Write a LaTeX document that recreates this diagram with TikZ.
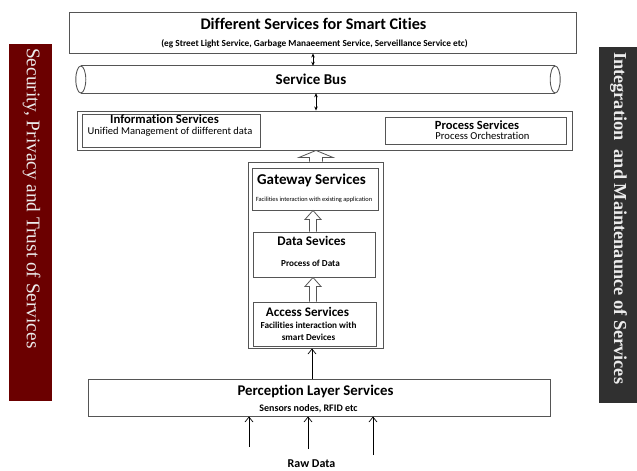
\documentclass[tikz,border=0pt]{standalone}
\usepackage{fontspec}
\setmainfont{Carlito}[Ligatures={NoCommon}]
\newfontfamily\serifside{Liberation Serif}
\usetikzlibrary{arrows.meta,calc}
\definecolor{edge}{RGB}{85,85,85}
\definecolor{secred}{RGB}{107,0,0}
\definecolor{intgray}{RGB}{48,48,48}
\newcommand{\fsz}[1]{\fontsize{#1}{#1}\selectfont}
\tikzset{
  box/.style={draw=edge, line width=0.9pt, inner sep=0pt, fill=white},
  txt/.style={inner sep=0pt, text=black},
  dbl/.style={line width=0.8pt, {Stealth[length=4pt,width=3.5pt]}-{Stealth[length=4pt,width=3.5pt]}},
  open/.style={line width=0.7pt, -{Straight Barb[length=5pt,width=8pt]}},
  hollow/.style={draw=edge, line width=0.8pt, fill=white},
  sidebar/.style={inner sep=0pt}
}
\begin{document}
\begin{tikzpicture}[x=1pt,y=-1pt]
\useasboundingbox (0,0) rectangle (637,471);
% side bars
\node[sidebar, fill=secred, minimum width=43pt, minimum height=357pt] (sec) at (30.5,222.5) {};
\node[txt, text=white!92!black, rotate=-90, anchor=west] (sectxt) at (31.5,48) {\serifside\fsz{19.3}Security, Privacy and Trust of Services};
\node[sidebar, fill=intgray, minimum width=38pt, minimum height=356pt] (int) at (618,225) {};
\node[txt, text=white!92!black, rotate=-90, anchor=west] (inttxt) at (618.5,52) {\serifside\bfseries\fsz{18.3}Integration~~and Maintenaunce of Services};

% top box
\node[box, minimum width=507pt, minimum height=41pt] (top) at (322.5,32.5) {};
\node[txt] (toptitle) at (313.5,24) {\bfseries\fsz{16.2}Different Services for Smart Cities};
\node[txt] (topsub) at (314.5,43.5) {\bfseries\fsz{9.3}(eg Street Light Service, Garbage Manaeement Service, Serveillance Service etc)};

% service bus
\node[txt, minimum width=474pt, minimum height=27pt] (bus) at (318,79.5) {};
\draw[edge, line width=0.9pt] (bus.north west) -- (bus.north east) (bus.south west) -- (bus.south east);
\draw[edge, line width=0.9pt] (bus.west) ellipse [x radius=5pt, y radius=13.5pt];
\draw[edge, line width=0.9pt] (bus.east) ellipse [x radius=5pt, y radius=13.5pt];
\node[txt] (bustxt) at (311,79) {\bfseries\fsz{15}Service Bus};

% middle box
\node[box, minimum width=495pt, minimum height=39pt] (mid) at (324.5,130.5) {};
\node[box, minimum width=178pt, minimum height=33pt] (info) at (171,130.5) {};
\node[txt] (infot) at (164.5,119.5) {\bfseries\fsz{12.7}Information Services};
\node[txt] (infos) at (170,131.5) {\fsz{10.5}Unified Management of diifferent data};
\node[box, minimum width=181pt, minimum height=27pt] (proc) at (475.5,130.5) {};
\node[txt] (proct) at (477,125) {\bfseries\fsz{12.5}Process Services};
\node[txt] (procs) at (482.5,136) {\fsz{10.6}Process Orchestration};

% arrows top-bus-mid
\coordinate (ax1) at (313,0);
\coordinate (ax2) at (316,0);
\draw[dbl] (top.south -| ax1) -- (bus.north -| ax1);
\draw[dbl] (bus.south -| ax2) -- (mid.north -| ax2);

% container
\node[box, minimum width=135pt, minimum height=186pt] (cont) at (315.5,255) {};
\node[box, minimum width=126pt, minimum height=42pt] (gw) at (315,189) {};
\node[txt] (gwt) at (311.5,180.5) {\bfseries\fsz{15}Gateway Services};
\node[txt] (gws) at (314,200) {\fsz{6.4}Facilities interaction with existing application};
\node[box, minimum width=122pt, minimum height=45pt] (data) at (314,254.5) {};
\node[txt] (datat) at (311.5,241) {\bfseries\fsz{13.2}Data Sevices};
\node[txt] (datas) at (310.5,263) {\bfseries\fsz{9.2}Process of Data};
\node[box, minimum width=123pt, minimum height=44pt] (acc) at (314.5,324) {};
\node[txt] (acct) at (307.5,311.5) {\bfseries\fsz{13.1}Access Services};
\node[txt, align=center] (accs) at (308.5,331.5) {\bfseries\fsz{9.2}Facilities interaction with\\[0.5pt]\bfseries\fsz{9.2}smart Devices};

% hollow arrows
\coordinate (h1) at (316,0);
\coordinate (h2) at (313,0);
\path (cont.north -| h1) coordinate (a1b) (mid.south -| h1) coordinate (a1t);
\draw[hollow] ($(a1b)+(-6.5,0)$) -- ($(a1t)+(-6.5,7)$) -- ($(a1t)+(-17,7)$) -- (a1t) -- ($(a1t)+(17,7)$) -- ($(a1t)+(6.5,7)$) -- ($(a1b)+(6.5,0)$);
\path (data.north -| h2) coordinate (a2b) (gw.south -| h2) coordinate (a2t);
\draw[hollow] ($(a2b)+(-3.5,0)$) -- ($(a2t)+(-3.5,9)$) -- ($(a2t)+(-8,9)$) -- (a2t) -- ($(a2t)+(8,9)$) -- ($(a2t)+(3.5,9)$) -- ($(a2b)+(3.5,0)$);
\path (acc.north -| h2) coordinate (a3b) (data.south -| h2) coordinate (a3t);
\draw[hollow] ($(a3b)+(-3.5,0)$) -- ($(a3t)+(-3.5,9)$) -- ($(a3t)+(-8,9)$) -- (a3t) -- ($(a3t)+(8,9)$) -- ($(a3t)+(3.5,9)$) -- ($(a3b)+(3.5,0)$);

% perception
\node[box, minimum width=462pt, minimum height=37pt] (perc) at (319,397.5) {};
\node[txt] (perct) at (315.5,391) {\bfseries\fsz{14.8}Perception Layer Services};
\node[txt] (percs) at (308.5,409) {\bfseries\fsz{10}Sensors nodes, RFID etc};
\coordinate (p1) at (312,0);
\draw[open] (perc.north -| p1) -- (cont.south -| p1);

% raw data
\coordinate (r1) at (249,447);
\coordinate (r2) at (308,449);
\coordinate (r3) at (373,455);
\draw[open] (r1) -- (perc.south -| r1);
\draw[open] (r2) -- (perc.south -| r2);
\draw[open] (r3) -- (perc.south -| r3);
\node[txt] (raw) at (311.5,463.5) {\bfseries\fsz{12}Raw Data};
\end{tikzpicture}
\end{document}
